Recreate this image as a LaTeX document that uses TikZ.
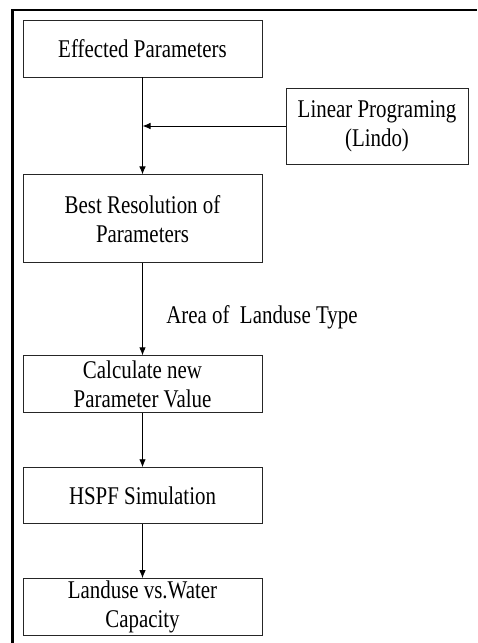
\documentclass[tikz,border=0pt]{standalone}
\usepackage{fontspec}
\setmainfont[FakeStretch=0.82]{Liberation Serif}
\usepackage{tikz}
\usetikzlibrary{positioning,arrows.meta}

\tikzset{
    stepbox/.style={rectangle, draw=black!85, line width=0.9pt, minimum width=239pt, minimum height=57pt, inner sep=0pt, align=center, font=\fontsize{25.5}{29}\selectfont},
    flow/.style={-{Latex[length=8pt,width=6.5pt]}, line width=0.9pt}
}

\begin{document}
\begin{tikzpicture}[x=1pt,y=-1pt]
                \useasboundingbox (0,0) rectangle (477,643);
                \draw[line width=2.5pt] (12.5,643) -- (12.5,10) -- (477,10);

                \node[stepbox] (b1) at (142.5,48.5) {Effected Parameters};

                \node[stepbox, minimum height=88pt, below=97pt of b1] (b2) {
                    Best Resolution of \\
                    Parameters
                };

                \node[stepbox, below=92pt of b2] (b3) {
                    Calculate new \\
                    Parameter Value
                };

                \node[stepbox, minimum height=56pt, below=54pt of b3] (b4) {HSPF Simulation};

                \node[stepbox, below=54pt of b4] (b5) {
                    Landuse vs.Water \\
                    Capacity
                };

                \node[stepbox, minimum width=182pt, minimum height=76pt] (lp) at (377,126) {
                    Linear Programing \\
                    (Lindo)
                };

                \coordinate (join) at (b1.south |- lp.west);

                \draw[flow] (b1) -- (b2);
                \draw[flow] (lp) -- (join);
                \draw[flow] (b2) -- (b3) node[pos=0.59, right=20pt, font=\fontsize{25.5}{29}\selectfont] {Area of\ \ Landuse Type};
                \draw[flow] (b3) -- (b4);
                \draw[flow] (b4) -- (b5);
            \end{tikzpicture}
\end{document}
